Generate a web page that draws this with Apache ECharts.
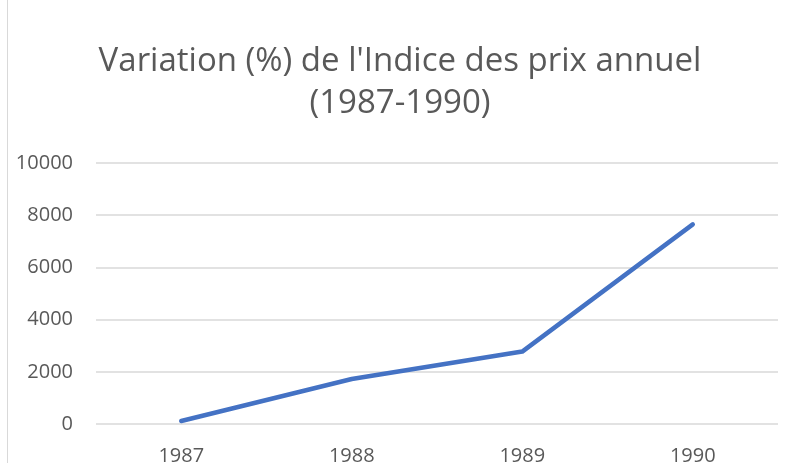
<!DOCTYPE html>
<html>
<head>
<meta charset="utf-8">
<script src="https://cdn.jsdelivr.net/npm/echarts@6/dist/echarts.min.js"></script>
<style>
  html, body { margin: 0; padding: 0; background: #fff; }
  #chart { width: 800px; height: 463px; }
</style>
</head>
<body>
<div id="chart"></div>
<script>
  // données
  const years = ['1987', '1988', '1989', '1990']
  const variation = [114.5, 1722, 2775, 7650]
  const yTicks = [0, 2000, 4000, 6000, 8000, 10000]

  const chart = echarts.init(document.getElementById('chart'))
  chart.setOption({
    animation: false,
    backgroundColor: '#fff',
    title: {
      text: "Variation (%) de l'Indice des prix annuel\n(1987-1990)",
      left: 'center',
      top: 36,
      textStyle: {
        fontFamily: 'Open Sans',
        fontWeight: 'normal',
        fontSize: 33,
        lineHeight: 42,
        color: '#595959'
      }
    },
    graphic: [{
      type: 'line',
      shape: { x1: 7.5, y1: 0, x2: 7.5, y2: 463 },
      style: { stroke: '#d9d9d9', lineWidth: 1 }
    }],
    grid: {
      left: 96,
      right: 22,
      top: 163,
      bottom: 39,
      outerBoundsMode: 'none'
    },
    xAxis: {
      type: 'category',
      data: years,
      boundaryGap: true,
      axisLine: { show: false },
      axisTick: { show: false },
      axisLabel: {
        color: '#595959',
        fontFamily: 'Open Sans',
        fontSize: 20,
        margin: 22
      }
    },
    yAxis: {
      type: 'value',
      min: yTicks[0],
      max: yTicks[yTicks.length - 1],
      interval: 2000,
      axisLine: { show: false },
      axisTick: { show: false },
      splitLine: { lineStyle: { color: '#d9d9d9', width: 1.5 } },
      axisLabel: {
        color: '#595959',
        fontFamily: 'Open Sans',
        fontSize: 20,
        margin: 23,
        formatter: v => String(v)
      }
    },
    series: [{
      type: 'line',
      data: variation,
      symbol: 'none',
      lineStyle: { color: '#4472C4', width: 4.5, cap: 'round', join: 'round' }
    }]
  })
</script>
</body>
</html>
